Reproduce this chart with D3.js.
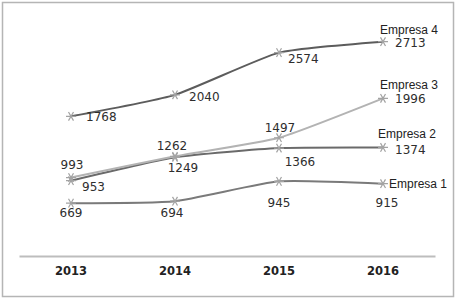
<!DOCTYPE html>
<html>
<head>
<meta charset="utf-8">
<script src="https://cdn.jsdelivr.net/npm/d3@7"></script>
<style>
  body { margin: 0; background: #fff; }
  .val { font-family: "DejaVu Sans", Verdana, sans-serif; font-size: 12px; fill: #2e2e2e; }
  .year { font-family: "DejaVu Sans", Verdana, sans-serif; font-size: 11.5px; font-weight: bold; fill: #222; }
  .name { font-family: "Liberation Sans Narrow", "Liberation Sans", sans-serif; font-size: 12px; fill: #222; }
</style>
</head>
<body>
<svg id="chart"></svg>
<script>
// chart data
const years = ['2013', '2014', '2015', '2016']
const seriesNames = ['Empresa 1', 'Empresa 2', 'Empresa 3', 'Empresa 4']
const empresa1 = [669, 694, 945, 915]
const empresa2 = [953, 1249, 1366, 1374]
const empresa3 = [993, 1262, 1497, 1996]
const empresa4 = [1768, 2040, 2574, 2713]

const seriesValues = [empresa1, empresa2, empresa3, empresa4]
const lineColors = ['#7a7a7a', '#6a6a6a', '#b3b3b3', '#5c5c5c']

// where each value label sits relative to its point [dx, dy, anchor]
const labelPlacement = [
    [[0, 14, 'middle'], [-3, 16, 'middle'], [0, 26, 'middle'], [4, 23, 'middle']],
    [[11, 10, 'start'], [8, 15, 'middle'], [21, 18, 'middle'], [12, 7, 'start']],
    [[1, -9, 'middle'], [-3, -6, 'middle'], [1, -6, 'middle'], [12, 5, 'start']],
    [[15, 5, 'start'], [14, 6, 'start'], [9, 10, 'start'], [12, 5, 'start']]
]
const namePlacement = [[6, 4, 'start'], [-5, -9, 'start'], [-3, -9, 'start'], [-3, -8, 'start']]

const width = 457, height = 301
const margin = {top: 19, left: 19, right: 22, bottom: 45}

const svg = d3.select('#chart')
    .attr('width', width)
    .attr('height', height)

// outer frame
svg.append('rect')
    .attr('x', 2.5).attr('y', 2.5)
    .attr('width', 451).attr('height', 294)
    .attr('fill', 'none')
    .attr('stroke', '#b5b5b5')
    .attr('stroke-width', 1.5)

const xScale = d3.scaleBand()
    .domain(years)
    .range([margin.left, width - margin.right])

const yScale = d3.scaleLinear()
    .domain([0, 3000])
    .range([height - margin.bottom, margin.top])

const xPos = (i) => xScale(years[i]) + xScale.bandwidth() / 2

// category axis
const xAxis = d3.axisBottom(xScale).tickSize(0).tickPadding(11)
const xAxisG = svg.append('g')
    .attr('transform', `translate(0, ${yScale(0)})`)
    .call(xAxis)
xAxisG.select('.domain')
    .attr('stroke', '#bdbdbd')
    .attr('stroke-width', 2)
xAxisG.selectAll('text')
    .attr('class', 'year')
    .attr('font-family', null)
    .attr('font-size', null)
    .attr('fill', null)

const line = d3.line()
    .x((d, i) => xPos(i))
    .y(d => yScale(d))
    .curve(d3.curveCardinal.tension(0.5))

const star = d3.symbol().type(d3.symbolAsterisk).size(70)

seriesValues.forEach((values, s) => {
    const g = svg.append('g')

    g.append('path')
        .datum(values)
        .attr('d', line)
        .attr('fill', 'none')
        .attr('stroke', lineColors[s])
        .attr('stroke-width', 2)

    g.selectAll('.marker')
        .data(values)
        .join('path')
        .attr('class', 'marker')
        .attr('d', star)
        .attr('transform', (d, i) => `translate(${xPos(i)}, ${yScale(d)}) rotate(90)`)
        .attr('fill', 'none')
        .attr('stroke', '#a3a3a3')
        .attr('stroke-width', 1.2)

    g.selectAll('.val')
        .data(values)
        .join('text')
        .attr('class', 'val')
        .attr('x', (d, i) => xPos(i) + labelPlacement[s][i][0])
        .attr('y', (d, i) => yScale(d) + labelPlacement[s][i][1])
        .attr('text-anchor', (d, i) => labelPlacement[s][i][2])
        .text(d => d)

    const last = values.length - 1
    g.append('text')
        .attr('class', 'name')
        .attr('x', xPos(last) + namePlacement[s][0])
        .attr('y', yScale(values[last]) + namePlacement[s][1])
        .attr('text-anchor', namePlacement[s][2])
        .text(seriesNames[s])
})
</script>
</body>
</html>
